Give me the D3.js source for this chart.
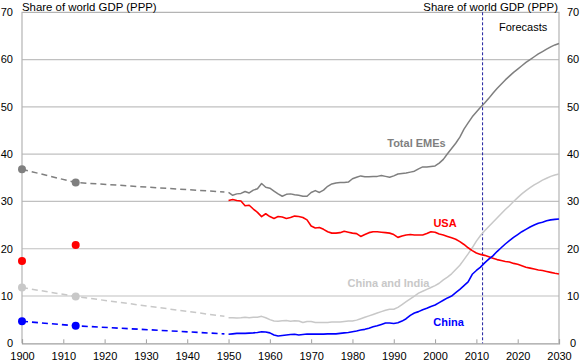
<!DOCTYPE html>
<html>
<head>
<meta charset="utf-8">
<script src="https://cdn.jsdelivr.net/npm/d3@7"></script>
<style>
  body { margin: 0; background: #fff; }
  text { font-family: "Liberation Sans", Arial, sans-serif; }
</style>
</head>
<body>
<div id="chart"></div>
<script>
// chart data
const years = d3.range(1950, 2031);

const totalEMEs = [31.9, 31.3, 31.6, 31.7, 32.1, 31.8, 32.4, 32.7, 33.8, 33.0,
  32.8, 32.2, 31.6, 31.1, 31.5, 31.6, 31.4, 31.3, 31.1, 31.1,
  31.9, 32.3, 31.9, 32.4, 33.2, 33.7, 33.9, 34.0, 34.0, 34.1,
  34.8, 35.1, 35.4, 35.2, 35.2, 35.3, 35.3, 35.5, 35.3, 35.1,
  35.4, 35.8, 35.9, 36.0, 36.2, 36.4, 36.9, 37.3, 37.3, 37.4,
  37.5, 38.1, 38.9, 40.1, 41.2, 42.3, 43.6, 45.3, 46.6, 47.9,
  48.9, 49.9, 50.8, 51.8, 52.9, 53.9, 54.8, 55.7, 56.5, 57.3,
  58.0, 58.7, 59.4, 60.0, 60.6, 61.2, 61.7, 62.2, 62.7, 63.1, 63.4];

const usa = [30.2, 30.4, 30.2, 30.1, 29.1, 29.2, 28.4, 27.7, 26.8, 27.4,
  26.8, 26.4, 26.8, 26.7, 26.4, 26.6, 26.9, 26.8, 26.6, 26.1,
  24.8, 24.4, 24.5, 24.1, 23.6, 23.3, 23.3, 23.4, 23.7, 23.5,
  23.3, 23.2, 22.6, 23.0, 23.4, 23.6, 23.6, 23.5, 23.4, 23.3,
  23.0, 22.4, 22.7, 22.9, 23.0, 22.9, 22.9, 22.9, 23.2, 23.6,
  23.5, 23.1, 22.9, 22.6, 22.3, 22.0, 21.5, 20.9, 20.2, 19.6,
  19.1, 18.8, 18.6, 18.3, 18.0, 17.7, 17.5, 17.3, 17.2, 16.9,
  16.7, 16.4, 16.1, 15.9, 15.7, 15.5, 15.4, 15.2, 15.0, 14.8, 14.65];

const chinaIndia = [5.4, 5.4, 5.35, 5.4, 5.5, 5.4, 5.5, 5.5, 5.7, 5.4,
  5.0, 4.7, 4.65, 4.75, 4.8, 4.65, 4.75, 4.7, 4.4, 4.6,
  4.6, 4.4, 4.4, 4.4, 4.4, 4.5, 4.5, 4.5, 4.6, 4.7,
  4.7, 4.9, 5.2, 5.5, 5.8, 6.1, 6.4, 6.7, 7.0, 7.2,
  7.2, 7.6, 8.2, 8.8, 9.4, 10.0, 10.6, 11.0, 11.4, 11.8,
  12.2, 12.7, 13.4, 14.0, 14.7, 15.6, 16.5, 17.7, 18.9, 20.2,
  21.6, 22.8, 23.8, 24.7, 25.6, 26.5, 27.4, 28.3, 29.1, 30.0,
  30.8, 31.6, 32.3, 32.9, 33.5, 34.0, 34.5, 34.9, 35.3, 35.6, 35.8];

const china = [1.9, 2.0, 2.1, 2.1, 2.1, 2.15, 2.2, 2.3, 2.45, 2.4,
  2.2, 1.75, 1.55, 1.65, 1.75, 1.85, 1.9, 1.75, 1.85, 1.95,
  1.95, 1.95, 1.95, 1.95, 2.0, 2.0, 2.0, 2.1, 2.2, 2.3,
  2.45, 2.6, 2.8, 2.95, 3.2, 3.5, 3.7, 4.0, 4.3, 4.3,
  4.2, 4.35, 4.7, 5.2, 5.9, 6.4, 6.7, 7.1, 7.4, 7.8,
  8.1, 8.6, 9.1, 9.6, 10.0, 10.7, 11.4, 12.2, 13.0, 14.6,
  15.4, 16.1, 17.0, 17.8, 18.5, 19.4, 20.2, 21.0, 21.7, 22.4,
  23.0, 23.6, 24.1, 24.6, 25.0, 25.4, 25.6, 25.9, 26.1, 26.2, 26.3];

// early estimates (dots at 1900 and 1913, dashed link to 1950)
const histYears = [1900, 1913, 1949];
const totalEMEsHist = [36.8, 34.0, 32.0];
const usaHist = [17.4, 20.8];
const chinaIndiaHist = [11.8, 9.9, 5.7];
const chinaHist = [4.65, 3.7, 2.0];

const xTicks = d3.range(1900, 2031, 10);
const yTicks = [0, 10, 20, 30, 40, 50, 60, 70];
const forecastYear = 2011.5;

const width = 583, height = 362;
const svg = d3.select("#chart").append("svg")
    .attr("width", width)
    .attr("height", height);

const x = d3.scaleLinear().domain([1900, 2030]).range([22, 559]);
const y = d3.scaleLinear().domain([0, 70]).range([343.3, 12.3]);

// gridlines
svg.append("g")
    .selectAll("line")
    .data(yTicks.slice(1, -1))
    .join("line")
      .attr("x1", x(1900))
      .attr("x2", x(2030))
      .attr("y1", d => y(d))
      .attr("y2", d => y(d))
      .attr("stroke", "#c0c0c0")
      .attr("stroke-width", 1.2)

// frame
svg.append("path")
    .attr("d", `M${x(1900)},${y(0)}V${y(70)}H${x(2030)}V${y(0)}`)
    .attr("fill", "none")
    .attr("stroke", "#b4b4b4")
    .attr("stroke-width", 1.2)

// x axis
const xAxis = svg.append("g")
    .attr("transform", `translate(0,${y(0)})`)
    .call(d3.axisBottom(x).tickValues(xTicks).tickFormat(d3.format("d")).tickSize(-4).tickPadding(9))
xAxis.select(".domain").attr("stroke", "#a0a0a0").attr("stroke-width", 1.2);
xAxis.selectAll(".tick line").attr("stroke", "#a0a0a0");
xAxis.selectAll("text").attr("font-size", 11).attr("fill", "#000");

// y axis labels, left and right
svg.append("g")
    .selectAll("text")
    .data(yTicks)
    .join("text")
      .attr("x", 13)
      .attr("y", d => y(d))
      .attr("dy", "0.35em")
      .attr("text-anchor", "end")
      .attr("font-size", 11)
      .text(d => d)

svg.append("g")
    .selectAll("text")
    .data(yTicks)
    .join("text")
      .attr("x", 573)
      .attr("y", d => y(d))
      .attr("dy", "0.35em")
      .attr("text-anchor", "middle")
      .attr("font-size", 11)
      .text(d => d)

// axis titles
svg.append("text")
    .attr("x", 22).attr("y", 10.5)
    .attr("font-size", 11.4)
    .text("Share of world GDP (PPP)")
svg.append("text")
    .attr("x", 558).attr("y", 10.5)
    .attr("text-anchor", "end")
    .attr("font-size", 11.4)
    .text("Share of world GDP (PPP)")

// forecast marker
svg.append("line")
    .attr("x1", x(forecastYear)).attr("x2", x(forecastYear))
    .attr("y1", y(70)).attr("y2", y(0))
    .attr("stroke", "#1f1f9f")
    .attr("stroke-width", 1)
    .attr("stroke-dasharray", "3,2")
svg.append("text")
    .attr("x", 499).attr("y", 31)
    .attr("font-size", 11)
    .text("Forecasts")

const line = d3.line()
    .x(d => x(d[0]))
    .y(d => y(d[1]));

const series = [
  {name: "China and India", values: chinaIndia, hist: chinaIndiaHist, color: "#c8c8c8", width: 1.5},
  {name: "Total EMEs", values: totalEMEs, hist: totalEMEsHist, color: "#7f7f7f", width: 1.5},
  {name: "USA", values: usa, hist: usaHist, color: "#ff0000", width: 1.6},
  {name: "China", values: china, hist: chinaHist, color: "#0000ff", width: 1.6}
];

for (let i = 0; i < series.length; i++) {
    const s = series[i];
    const hist = s.hist.map((v, j) => [histYears[j], v]);

    // dashed link for early estimates (not for USA)
    if (hist.length > 2) {
        svg.append("path")
            .attr("d", line(hist))
            .attr("fill", "none")
            .attr("stroke", s.color)
            .attr("stroke-width", s.width)
            .attr("stroke-dasharray", "6,4")
    }

    svg.append("g")
        .selectAll("circle")
        .data(hist.slice(0, 2))
        .join("circle")
          .attr("cx", d => x(d[0]))
          .attr("cy", d => y(d[1]))
          .attr("r", 4)
          .attr("fill", s.color)

    svg.append("path")
        .attr("d", line(years.map((yr, j) => [yr, s.values[j]])))
        .attr("fill", "none")
        .attr("stroke", s.color)
        .attr("stroke-width", s.width)
        .attr("stroke-linejoin", "round")
}

// series labels
const labels = [
  {text: "Total EMEs", x: 416.5, y: 147, color: "#7f7f7f"},
  {text: "USA", x: 445, y: 227, color: "#ff0000"},
  {text: "China and India", x: 388.5, y: 287, color: "#c8c8c8"},
  {text: "China", x: 448.5, y: 326, color: "#0000ff"}
];
svg.append("g")
    .selectAll("text")
    .data(labels)
    .join("text")
      .attr("x", d => d.x)
      .attr("y", d => d.y)
      .attr("text-anchor", "middle")
      .attr("font-size", 11)
      .attr("font-weight", "bold")
      .attr("fill", d => d.color)
      .text(d => d.text)
</script>
</body>
</html>
